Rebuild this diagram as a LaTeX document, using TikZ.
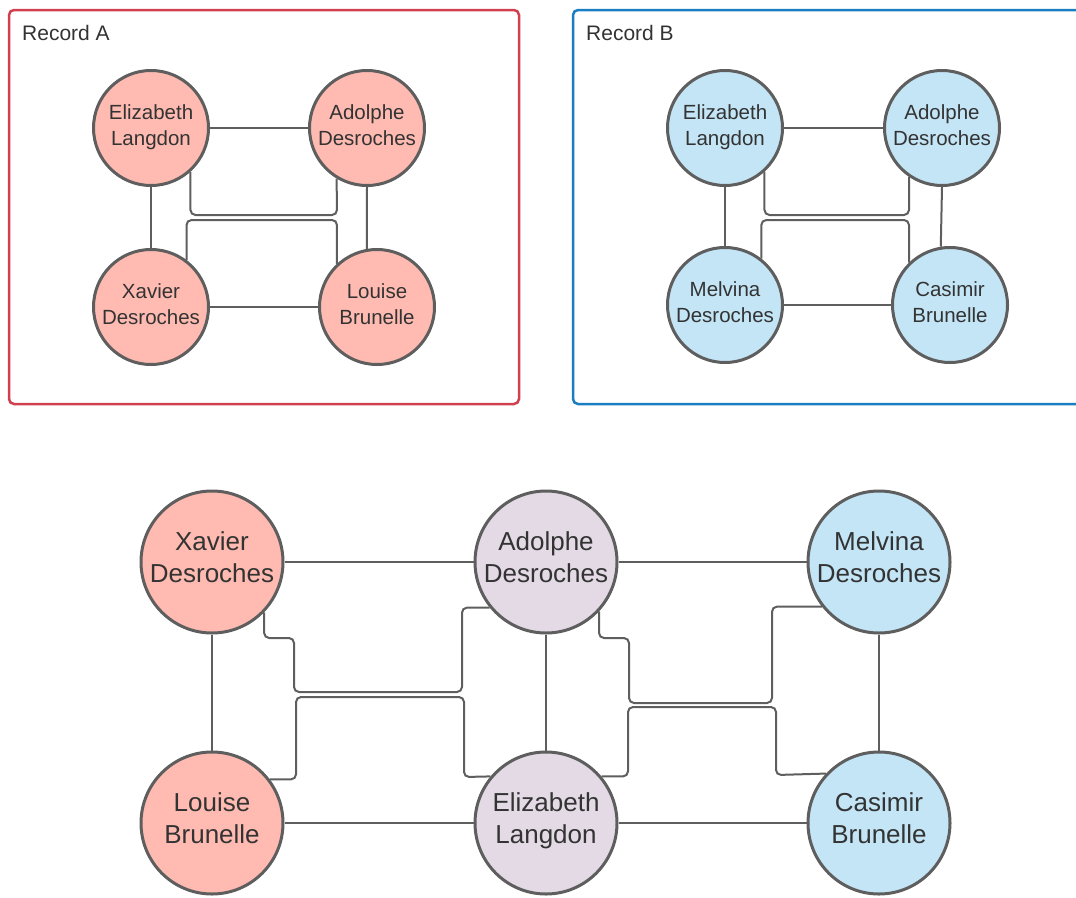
\documentclass[tikz,border=0pt]{standalone}
\usepackage{fontspec}
\setmainfont{Liberation Sans}
\usetikzlibrary{shapes}

\definecolor{recA}{HTML}{D0404F}
\definecolor{recB}{HTML}{1C7EC2}
\definecolor{pinkfill}{HTML}{FFBBB1}
\definecolor{bluefill}{HTML}{C3E5F6}
\definecolor{lilacfill}{HTML}{E3DAE5}
\definecolor{edgegray}{HTML}{5E5E5E}
\definecolor{ink}{HTML}{333333}

\tikzset{
  person/.style={circle, draw=edgegray, line width=3pt, text=ink, align=center, inner sep=0pt},
  small/.style={person, minimum size=115pt, text height=42pt, text depth=8pt, font=\fontsize{20.5}{26}\selectfont},
  big/.style={person, minimum size=142pt, text height=52pt, text depth=12pt, font=\fontsize{26}{32}\selectfont},
  link/.style={draw=edgegray, line width=2pt, rounded corners=5pt},
  record/.style={line width=2.5pt, rounded corners=5pt},
  title/.style={anchor=base west, inner sep=0pt, text=ink, font=\fontsize{21}{25}\selectfont}
}

\begin{document}
\begin{tikzpicture}[x=1pt,y=-1pt]
 \useasboundingbox (0,0) rectangle (1076,897);

 % record boxes
 \draw[record, draw=recA] (9,10) rectangle (519,404);
 \draw[record, draw=recB] (573,10) rectangle (1090,404);
 \node (titleA) [title] at (22,40) {Record A};
 \node (titleB) [title] at (586,40) {Record B};

 % Record A
 \node (aE) [small, fill=pinkfill] at (151,128) {Elizabeth\\ Langdon};
 \node (aA) [small, fill=pinkfill] at (367,128) {Adolphe\\ Desroches};
 \node (aX) [small, fill=pinkfill] at (151,307) {Xavier\\ Desroches};
 \node (aL) [small, fill=pinkfill] at (377,307) {Louise\\ Brunelle};

 \draw[link] (aE) -- (aA);
 \draw[link] (aE) -- (aX);
 \draw[link] (aX) -- (aL);
 \draw[link] (aA.south) -- (aL.100);
 \draw[link] (aE.-48) |- (337,215) -- (aA.-121);
 \draw[link] (aX.53) |- (337,220) -- (aL.133);

 % Record B
 \node (bE) [small, fill=bluefill] at (725,128) {Elizabeth\\ Langdon};
 \node (bA) [small, fill=bluefill] at (942,128) {Adolphe\\ Desroches};
 \node (bM) [small, fill=bluefill] at (725,305) {Melvina\\ Desroches};
 \node (bC) [small, fill=bluefill] at (950,305) {Casimir\\ Brunelle};

 \draw[link] (bE) -- (bA);
 \draw[link] (bE) -- (bM);
 \draw[link] (bM) -- (bC);
 \draw[link] (bA.south) -- (bC.99);
 \draw[link] (bE.-48) |- (909,215) -- (bA.-124);
 \draw[link] (bM.52) |- (909,220) -- (bC.134);

 % merged record
 \node (mX) [big, fill=pinkfill] at (212,562) {Xavier\\ Desroches};
 \node (mA) [big, fill=lilacfill] at (546,562) {Adolphe\\ Desroches};
 \node (mM) [big, fill=bluefill] at (879,562) {Melvina\\ Desroches};
 \node (mL) [big, fill=pinkfill] at (212,823) {Louise\\ Brunelle};
 \node (mE) [big, fill=lilacfill] at (546,823) {Elizabeth\\ Langdon};
 \node (mC) [big, fill=bluefill] at (879,823) {Casimir\\ Brunelle};

 \draw[link] (mX) -- (mA);
 \draw[link] (mA) -- (mM);
 \draw[link] (mL) -- (mE);
 \draw[link] (mE) -- (mC);
 \draw[link] (mX) -- (mL);
 \draw[link] (mA) -- (mE);
 \draw[link] (mM) -- (mC);
 \draw[link] (mX.-44) |- (294,638) |- (462,692) |- (mA.-141);
 \draw[link] (mL.37) -| (296,697) -| (464,777) -- (mE.140);
 \draw[link] (mA.-43) |- (629,638) |- (772,703) |- (mM.-142);
 \draw[link] (mE.40) -| (628,707) -| (776,775) -- (mC.137);
\end{tikzpicture}
\end{document}
